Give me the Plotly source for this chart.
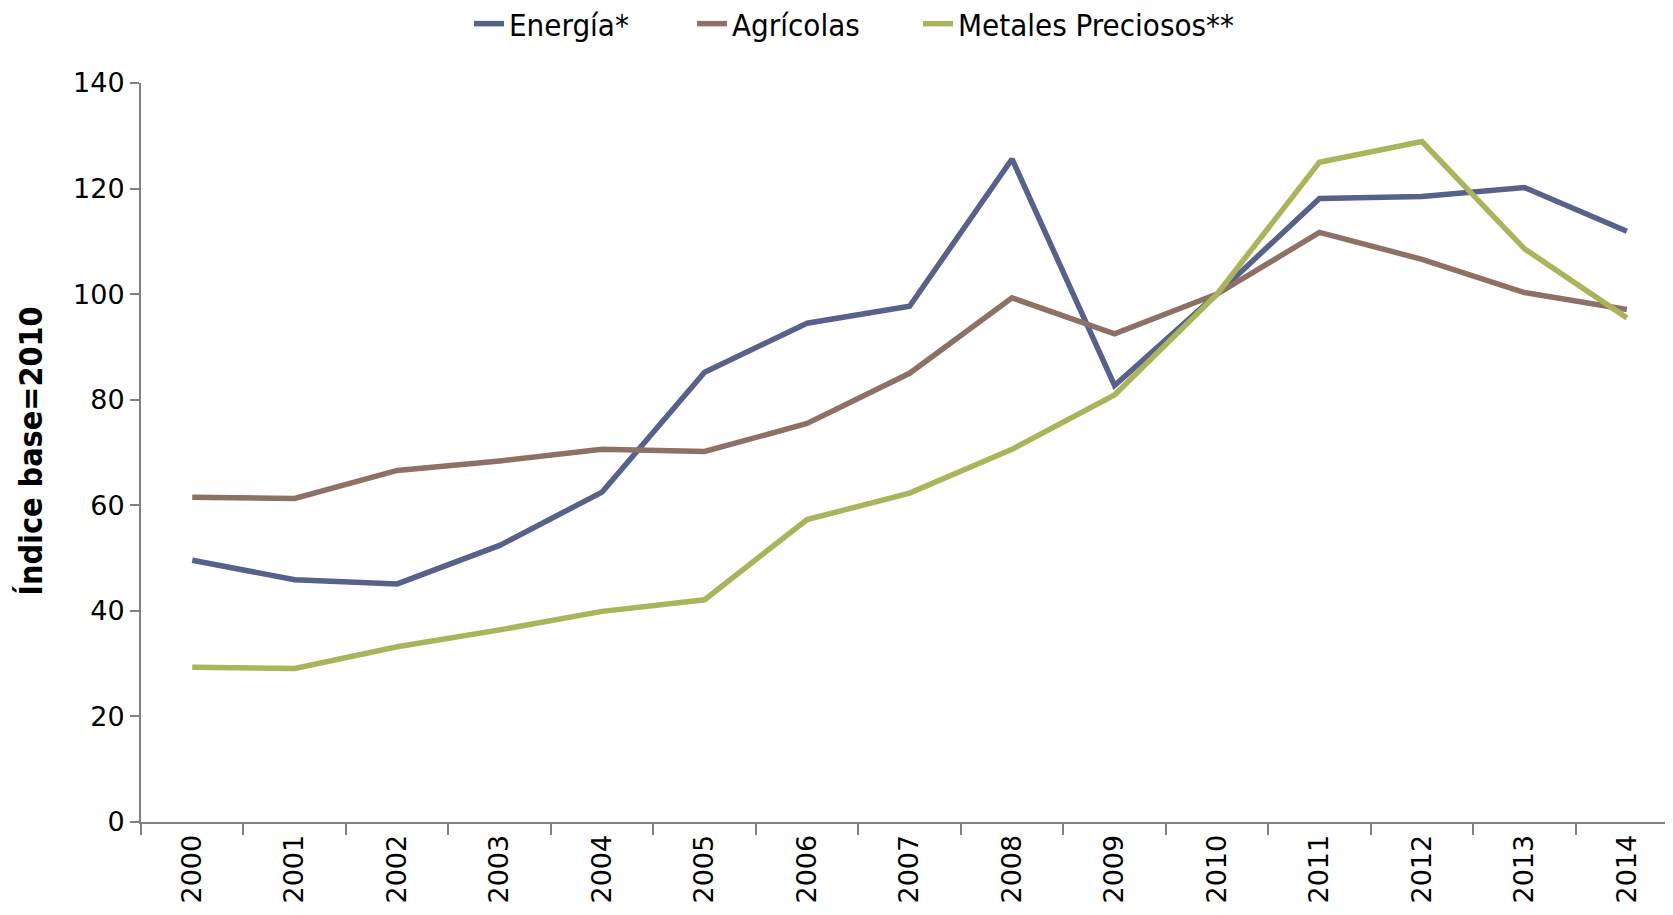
import plotly.graph_objects as go

years = ["2000", "2001", "2002", "2003", "2004", "2005", "2006", "2007",
         "2008", "2009", "2010", "2011", "2012", "2013", "2014"]
energia = [49.6, 45.9, 45.1, 52.4, 62.5, 85.2, 94.5, 97.7, 125.6, 82.7,
           100.0, 118.1, 118.5, 120.2, 111.9]
agricolas = [61.5, 61.3, 66.6, 68.4, 70.6, 70.2, 75.5, 85.0, 99.3, 92.5,
             100.0, 111.7, 106.6, 100.3, 97.1]
metales = [29.3, 29.1, 33.2, 36.4, 39.9, 42.1, 57.3, 62.3, 70.6, 80.9,
           100.0, 125.0, 128.9, 108.6, 95.5]
series_names = ["Energía*", "Agrícolas", "Metales Preciosos**"]
colors = ["#57618a", "#8e7166", "#a9b45b"]
y_ticks = [0, 20, 40, 60, 80, 100, 120, 140]
y_title = "Índice base=2010"

tick_font = dict(family="DejaVu Sans, Verdana, sans-serif", size=27, color="#000000")
cond = "DejaVu Sans Condensed, Liberation Sans Narrow, sans-serif"
axis_col = "#808080"

legend_ids = ["legend", "legend2", "legend3"]
legend_x = [461, 684, 910]  # left edges in pixels

fig = go.Figure()
for name, vals, col, lid in zip(series_names, [energia, agricolas, metales], colors, legend_ids):
    fig.add_trace(go.Scatter(x=years, y=vals, mode="lines", name=name, legend=lid,
                             line=dict(color=col, width=5.5)))

legend_layouts = {}
for lid, lx in zip(legend_ids, legend_x):
    legend_layouts[lid] = dict(orientation="h", xref="container", yref="container",
                               x=lx / 1673, xanchor="left", y=1 - 16 / 915, yanchor="middle",
                               font=dict(family=cond, size=31, color="#000000"),
                               bgcolor="rgba(0,0,0,0)")

fig.update_layout(
    width=1673, height=915,
    paper_bgcolor="white", plot_bgcolor="white",
    margin=dict(l=133, r=8, t=75, b=101),
    showlegend=True,
    xaxis=dict(type="category", range=[-0.5, 14.45], showgrid=False, zeroline=False,
               showline=True, linecolor=axis_col, linewidth=2,
               ticks="outside", ticklen=11, tickwidth=2, tickcolor=axis_col,
               tickson="boundaries", tickangle=-90, tickfont=tick_font,
               automargin=False),
    yaxis=dict(range=[0, 140], tickvals=y_ticks, showgrid=False, zeroline=False,
               showline=True, linecolor=axis_col, linewidth=2,
               ticks="outside", ticklen=9, tickwidth=2, tickcolor=axis_col,
               tickfont=tick_font, automargin=False),
    annotations=[dict(text="<b>" + y_title + "</b>", textangle=-90, xref="paper", yref="paper",
                      x=-0.072, y=0.502, xanchor="center", yanchor="middle", showarrow=False,
                      font=dict(family=cond, size=32, color="#000000"))],
    **legend_layouts,
)

fig.write_html("out.html")
